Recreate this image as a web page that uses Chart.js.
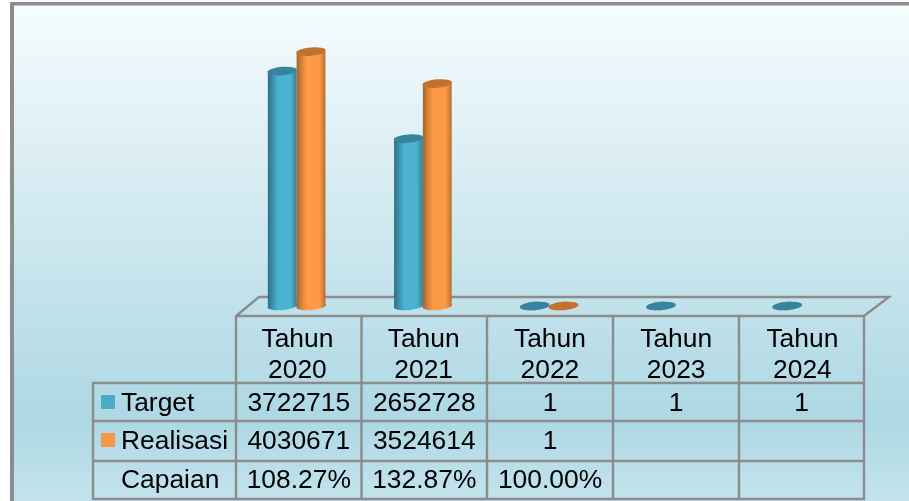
<!DOCTYPE html>
<html><head><meta charset="utf-8">
<style>html,body{margin:0;padding:0;background:#fff;overflow:hidden}#w{position:relative;width:909px;height:501px}</style>
<script src="https://cdn.jsdelivr.net/npm/chart.js@4"></script></head>
<body><div id="w"><canvas id="c" width="909" height="501"></canvas></div>
<script>
const categories=[["Tahun","2020"],["Tahun","2021"],["Tahun","2022"],["Tahun","2023"],["Tahun","2024"]];
const target=[3722715,2652728,1,1,1];
const realisasi=[4030671,3524614,1,null,null];
const capaian=["108.27%","132.87%","100.00%","",""];
const rowNames=["Target","Realisasi","Capaian"];

const FONT='26.4px "Liberation Sans"';
const LINE='#8c8c8c';
const TILT=-0.08, RY=4.2;
const CAT=0.456,BAR=1;
const EDGES=[236,361.5,487,613,739,864];
const skins=[
 {stops:['#2f7186','#3c8ea8','#4db3d3','#4db2d2','#4199b4','#327f95'],top:'#37859c',key:'#4bacc6'},
 {stops:['#a5632b','#d08038','#ff9a46','#fe9a46','#dd8639','#ad6a2e'],top:'#c2722f',key:'#f79646'}
];
function gradient(c,l,w,s){
 const g=c.createLinearGradient(l,0,l+w,0);
 [0,.16,.36,.78,.9,1].forEach((p,i)=>g.addColorStop(p,s.stops[i]));
 return g;
}
function barFill(ctx){
 const ch=ctx.chart,xs=ch.scales.x;
 if(!xs||!xs.width) return skins[ctx.datasetIndex].key;
 const w=xs.width/categories.length*CAT/2;
 const cx=xs.getPixelForValue(ctx.dataIndex);
 return gradient(ch.ctx,ctx.datasetIndex===0?cx-w:cx,w,skins[ctx.datasetIndex]);
}
const decor={
 id:'decor',
 beforeDraw(ch){
  const c=ch.ctx;
  c.save();
  c.fillStyle='#fff';c.fillRect(0,0,909,501);
  const g=c.createLinearGradient(0,5,0,501);
  g.addColorStop(0,'#f6fcfe');g.addColorStop(.3,'#dceef4');g.addColorStop(.83,'#add8e4');g.addColorStop(1,'#c3e3ec');
  c.fillStyle=g;c.fillRect(11,2,898,499);
  c.fillStyle=LINE;c.fillRect(10,2,899,3.5);c.fillRect(10,2,4,499);
  c.restore();
 },
 beforeDatasetsDraw(ch){
  const c=ch.ctx;
  c.save();c.strokeStyle=LINE;c.lineWidth=2.4;
  c.beginPath();
  c.moveTo(236,316);c.lineTo(259,297);c.lineTo(889,297);c.lineTo(864,316);
  EDGES.forEach(x=>{c.moveTo(x,316);c.lineTo(x,500);});
  c.moveTo(235,316);c.lineTo(865,316);
  [383,421,461,499].forEach(y=>{c.moveTo(93,y);c.lineTo(865,y);});
  c.moveTo(93,382);c.lineTo(93,500);
  c.stroke();c.restore();
 },
 afterDatasetDraw(ch,args){
  const c=ch.ctx,i=args.index,meta=ch.getDatasetMeta(i),s=skins[i];
  meta.data.forEach((el,k)=>{
   if(ch.data.datasets[i].data[k]==null) return;
   const rx=el.width/2+.4;
   c.save();
   c.fillStyle=gradient(c,el.x-rx,rx*2,s);
   c.beginPath();c.ellipse(el.x,el.base,rx,RY,TILT,0,Math.PI*2);c.fill();
   c.fillStyle=s.top;
   c.beginPath();c.ellipse(el.x,el.y,rx,RY,TILT,0,Math.PI*2);c.fill();
   c.restore();
  });
 },
 afterDraw(ch){
  const c=ch.ctx,cols=[target,realisasi,capaian];
  const base=[411,449,488];
  c.save();c.font=FONT;c.fillStyle='#000';c.textBaseline='alphabetic';
  rowNames.forEach((n,r)=>{
   c.textAlign='left';c.fillStyle='#000';c.fillText(n,121,base[r]);
   if(r<2){c.fillStyle=skins[r].key;c.fillRect(101,base[r]-16,14,14);c.fillStyle='#000';}
   c.textAlign='center';
   cols[r].forEach((v,k)=>{
    if(v==null||v==='') return;
    c.fillText(String(v),(EDGES[k]+EDGES[k+1])/2,base[r]);
   });
  });
  c.restore();
 }
};
new Chart(document.getElementById('c'),{
 type:'bar',
 data:{labels:categories,datasets:[
  {label:rowNames[0],data:target,backgroundColor:barFill,categoryPercentage:CAT,barPercentage:BAR,borderWidth:0},
  {label:rowNames[1],data:realisasi,backgroundColor:barFill,categoryPercentage:CAT,barPercentage:BAR,borderWidth:0}
 ]},
 options:{
  responsive:false,animation:false,devicePixelRatio:1,
  layout:{padding:{left:233.5,right:44.3,top:22,bottom:0}},
  plugins:{legend:{display:false},title:{display:false},tooltip:{enabled:false}},
  scales:{
   y:{display:false,min:0,max:4500000},
   x:{
    afterFit(s){s.height=195;},
    grid:{display:false},border:{display:false},
    ticks:{color:'#000',font:{family:'"Liberation Sans"',size:26.4,lineHeight:1.174},padding:10,labelOffset:0.8,autoSkip:false,maxRotation:0,minRotation:0}
   }
  }
 },
 plugins:[decor]
});
</script></body></html>
